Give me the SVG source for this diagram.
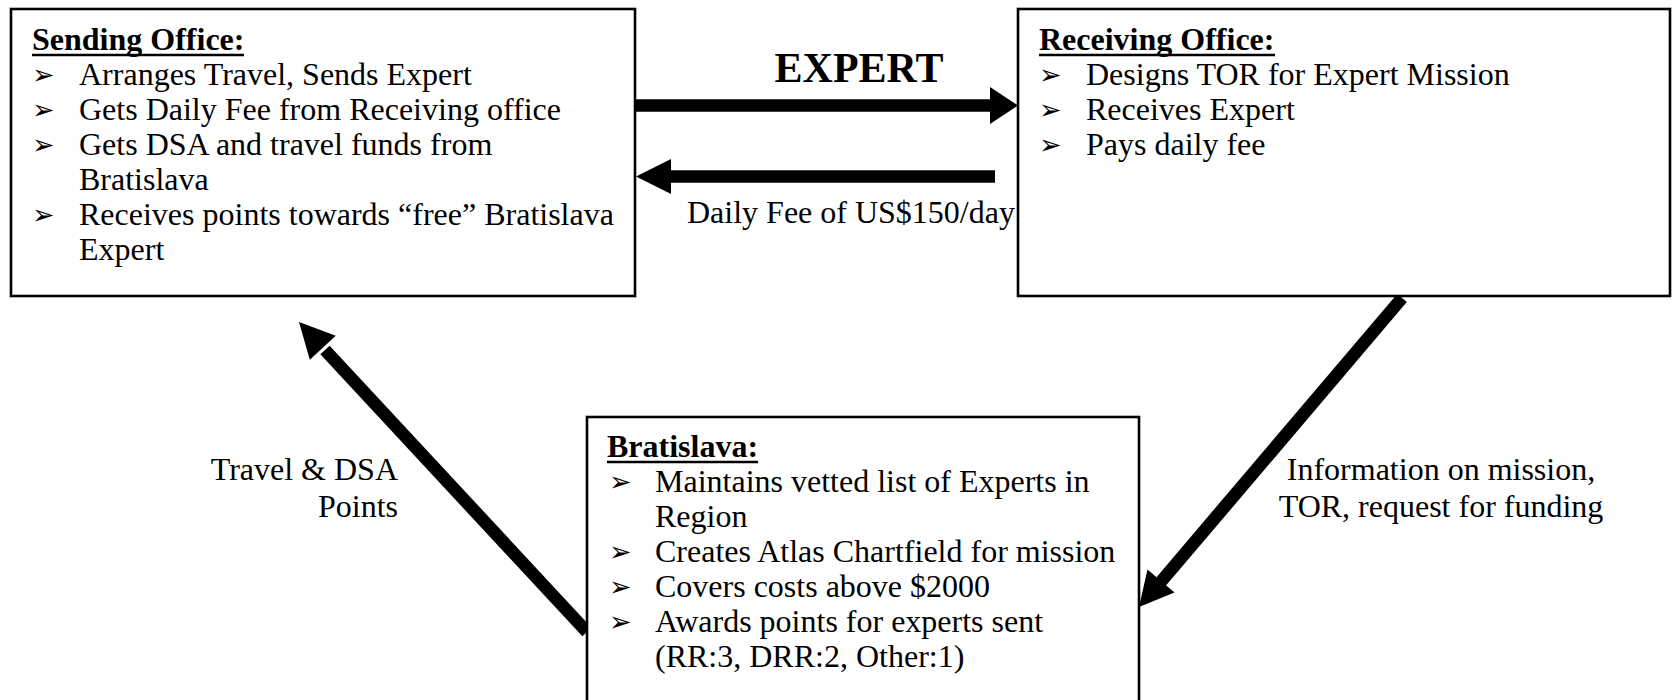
<svg xmlns="http://www.w3.org/2000/svg" width="1672" height="700" viewBox="0 0 1672 700">
<style>
.box{fill:#fff;stroke:#000;stroke-width:2.6}
.t{font-family:"Liberation Serif","Times New Roman",serif;font-size:32px;fill:#000}
.h{font-family:"Liberation Serif","Times New Roman",serif;font-size:32px;font-weight:bold;fill:#000}
.ul{stroke:#000;stroke-width:2.7}
.b{font-family:"DejaVu Sans",sans-serif;font-size:27px;fill:#000}
.shaft{stroke:#000;stroke-width:12.7;fill:none}
.head{fill:#000}
.big{font-family:"Liberation Serif","Times New Roman",serif;font-size:42px;font-weight:bold;fill:#000}
</style>
<rect width="1672" height="700" fill="#fff"/>
<g id="connectors">
<line class="shaft" x1="635" y1="105.5" x2="994" y2="105.5"/>
<polygon class="head" points="1018,105.5 990,87 990,124"/>
<line class="shaft" x1="995" y1="176.5" x2="668" y2="176.5"/>
<polygon class="head" points="636,176.5 671,159 671,194"/>
<line class="shaft" x1="587" y1="632" x2="325" y2="350"/>
<polygon class="head" points="299,322 335.8,335.7 309.8,359.7"/>
<line class="shaft" x1="1402" y1="298" x2="1159" y2="584"/>
<polygon class="head" points="1139,607 1174.5,592.5 1147.5,569.5"/>
<text class="big" x="859" y="82" text-anchor="middle">EXPERT</text>
<text class="t" x="687" y="223">Daily Fee of US$150/day</text>
<text class="t" x="398" y="480" text-anchor="end">Travel &amp; DSA</text>
<text class="t" x="398" y="517" text-anchor="end">Points</text>
<text class="t" x="1441" y="480" text-anchor="middle">Information on mission,</text>
<text class="t" x="1441" y="517" text-anchor="middle">TOR, request for funding</text>
</g>
<g id="sending">
<rect class="box" x="11" y="9" width="624" height="287"/>
<text class="h" x="32" y="50">Sending Office:</text>
<line class="ul" x1="32" y1="55" x2="244" y2="55"/>
<text class="b" x="32" y="84">➢</text>
<text class="t" x="79" y="85">Arranges Travel, Sends Expert</text>
<text class="b" x="32" y="119">➢</text>
<text class="t" x="79" y="120">Gets Daily Fee from Receiving office</text>
<text class="b" x="32" y="154">➢</text>
<text class="t" x="79" y="155">Gets DSA and travel funds from</text>
<text class="t" x="79" y="190">Bratislava</text>
<text class="b" x="32" y="224">➢</text>
<text class="t" x="79" y="225">Receives points towards “free” Bratislava</text>
<text class="t" x="79" y="260">Expert</text>
</g>
<g id="receiving">
<rect class="box" x="1018" y="9" width="652" height="287"/>
<text class="h" x="1039" y="50">Receiving Office:</text>
<line class="ul" x1="1039" y1="55" x2="1275" y2="55"/>
<text class="b" x="1039" y="84">➢</text>
<text class="t" x="1086" y="85">Designs TOR for Expert Mission</text>
<text class="b" x="1039" y="119">➢</text>
<text class="t" x="1086" y="120">Receives Expert</text>
<text class="b" x="1039" y="154">➢</text>
<text class="t" x="1086" y="155">Pays daily fee</text>
</g>
<g id="bratislava">
<rect class="box" x="587" y="417" width="552" height="300"/>
<text class="h" x="607" y="457">Bratislava:</text>
<line class="ul" x1="607" y1="462" x2="758" y2="462"/>
<text class="b" x="609" y="491">➢</text>
<text class="t" x="655" y="492">Maintains vetted list of Experts in</text>
<text class="t" x="655" y="527">Region</text>
<text class="b" x="609" y="561">➢</text>
<text class="t" x="655" y="562">Creates Atlas Chartfield for mission</text>
<text class="b" x="609" y="596">➢</text>
<text class="t" x="655" y="597">Covers costs above $2000</text>
<text class="b" x="609" y="631">➢</text>
<text class="t" x="655" y="632">Awards points for experts sent</text>
<text class="t" x="655" y="667">(RR:3, DRR:2, Other:1)</text>
</g>
</svg>
